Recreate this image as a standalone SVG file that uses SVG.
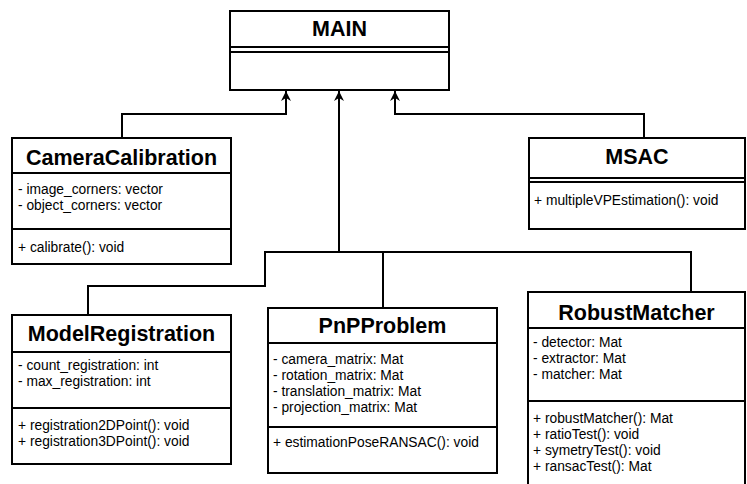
<svg xmlns="http://www.w3.org/2000/svg" width="747" height="484" viewBox="0 0 747 484">
<style>
.box{fill:#fff;stroke:#000;stroke-width:2}
.sep{stroke:#000;stroke-width:2;fill:none}
.title{font-family:"Liberation Sans",Arial,sans-serif;font-weight:bold;font-size:21.5px;text-anchor:middle;fill:#000}
.mem{font-family:"Liberation Sans",Arial,sans-serif;font-size:13.8px;fill:#000}
.con{fill:none;stroke:#000;stroke-width:2}
</style>
<defs>
<marker id="arr" markerUnits="userSpaceOnUse" markerWidth="12" markerHeight="12" refX="10" refY="5" orient="auto" viewBox="0 0 12 12">
<path d="M10,5 L0,0 L3,5 L0,10 Z" fill="#000"/>
</marker>
</defs>
<rect width="747" height="484" fill="#fff"/>
<g id="connectors">
<path class="con" d="M122,138 V114 H286 V91" marker-end="url(#arr)"/>
<path class="con" d="M644,138 V114 H395 V91" marker-end="url(#arr)"/>
<path class="con" d="M339,252 V91" marker-end="url(#arr)"/>
<path class="con" d="M88,315 V286 H265 V252 H691 V292"/>
<path class="con" d="M383,252 V308"/>
</g>
<g id="MAIN">
<rect class="box" x="230" y="11" width="219" height="79"/>
<path class="sep" d="M230,47 H449 M230,52 H449"/>
<text class="title" x="339.5" y="36">MAIN</text>
</g>
<g id="CameraCalibration">
<rect class="box" x="12" y="138" width="219" height="126"/>
<path class="sep" d="M12,173 H231 M12,229 H231"/>
<text class="title" x="121.5" y="165">CameraCalibration</text>
<text class="mem" x="18" y="194">- image_corners: vector</text>
<text class="mem" x="18" y="210">- object_corners: vector</text>
<text class="mem" x="18" y="252">+ calibrate(): void</text>
</g>
<g id="MSAC">
<rect class="box" x="529" y="138" width="216" height="91"/>
<path class="sep" d="M529,178 H745 M529,182 H745"/>
<text class="title" x="637" y="164">MSAC</text>
<text class="mem" x="534" y="205">+ multipleVPEstimation(): void</text>
</g>
<g id="ModelRegistration">
<rect class="box" x="12" y="315" width="219" height="149"/>
<path class="sep" d="M12,352 H231 M12,408 H231"/>
<text class="title" x="121.5" y="341">ModelRegistration</text>
<text class="mem" x="18" y="370">- count_registration: int</text>
<text class="mem" x="18" y="386">- max_registration: int</text>
<text class="mem" x="18" y="430">+ registration2DPoint(): void</text>
<text class="mem" x="18" y="446">+ registration3DPoint(): void</text>
</g>
<g id="PnPProblem">
<rect class="box" x="268" y="308" width="229" height="165"/>
<path class="sep" d="M268,343 H497 M268,427 H497"/>
<text class="title" x="382.5" y="333">PnPProblem</text>
<text class="mem" x="273" y="364">- camera_matrix: Mat</text>
<text class="mem" x="273" y="380">- rotation_matrix: Mat</text>
<text class="mem" x="273" y="396">- translation_matrix: Mat</text>
<text class="mem" x="273" y="412">- projection_matrix: Mat</text>
<text class="mem" x="273" y="447">+ estimationPoseRANSAC(): void</text>
</g>
<g id="RobustMatcher">
<rect class="box" x="528" y="292" width="217" height="200"/>
<path class="sep" d="M528,328 H745 M528,401 H745"/>
<text class="title" x="636.5" y="320">RobustMatcher</text>
<text class="mem" x="533" y="347">- detector: Mat</text>
<text class="mem" x="533" y="363">- extractor: Mat</text>
<text class="mem" x="533" y="379">- matcher: Mat</text>
<text class="mem" x="533" y="423">+ robustMatcher(): Mat</text>
<text class="mem" x="533" y="439">+ ratioTest(): void</text>
<text class="mem" x="533" y="455">+ symetryTest(): void</text>
<text class="mem" x="533" y="471">+ ransacTest(): Mat</text>
</g>
</svg>
